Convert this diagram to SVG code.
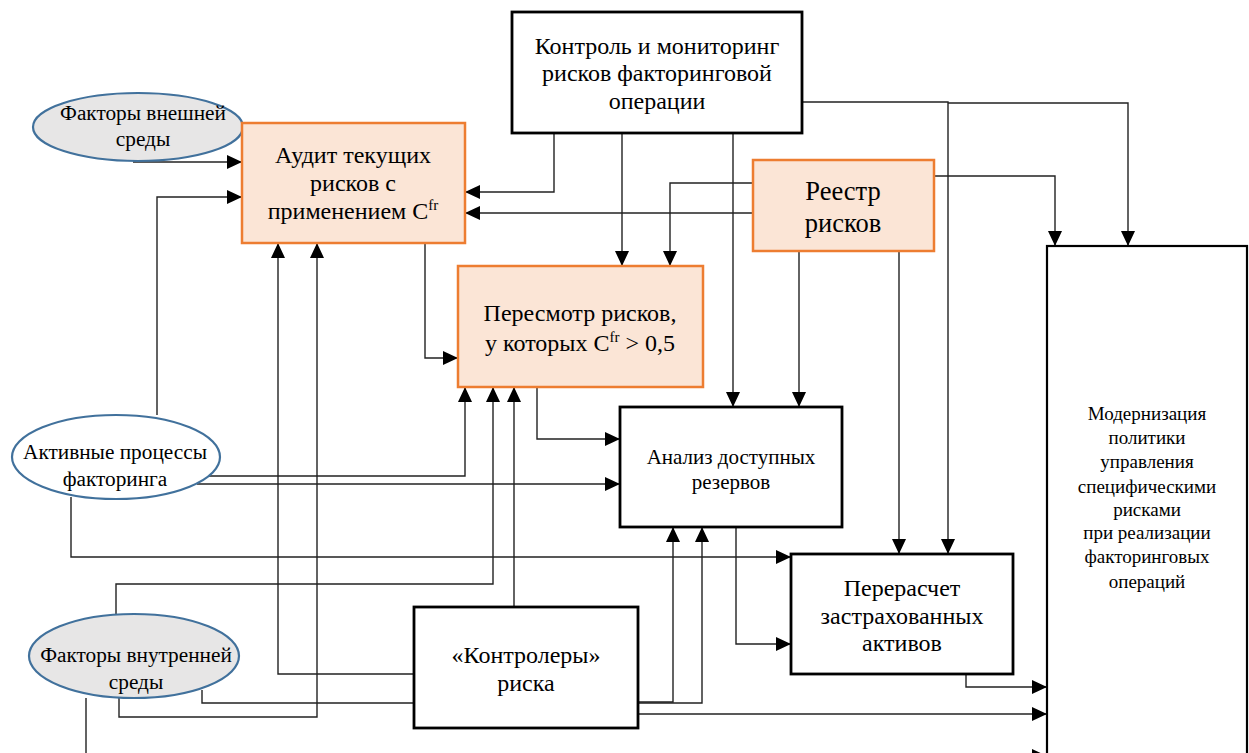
<svg xmlns="http://www.w3.org/2000/svg" width="1249" height="753" viewBox="0 0 1249 753">
<defs>
<marker id="ah" markerUnits="userSpaceOnUse" markerWidth="15" markerHeight="14" refX="15" refY="7" orient="auto">
<path d="M0,0 L15,7 L0,14 Z" fill="#000"/>
</marker>
<style>
.ell{fill:#e7e6e6;stroke:#41719c;stroke-width:2.2}
.org{fill:#fbe5d6;stroke:#ed7d31;stroke-width:2.5}
.blk{fill:#fff;stroke:#000;stroke-width:2.8}
.c{fill:none;stroke:#222;stroke-width:1.4}
.a{marker-end:url(#ah)}
.t{font-family:"Liberation Serif","Times New Roman",serif;fill:#000;text-anchor:middle}
.f24{font-size:24px}
.f21{font-size:21.3px}
.f20{font-size:21px}
.f19{font-size:19px}
.f26{font-size:26.5px}
.sup{font-size:15px}
</style>
</defs>
<rect width="1249" height="753" fill="#fff"/>

<g id="connectors">
<path class="c a" d="M133,162 H242"/>
<path class="c a" d="M157,415 V197 H242"/>
<path class="c a" d="M414,674 H278 V243"/>
<path class="c a" d="M119,697 V717 H317 V243"/>
<path class="c a" d="M425,243 V358 H458"/>
<path class="c a" d="M554,133 V192 H465"/>
<path class="c a" d="M753,213 H465"/>
<path class="c a" d="M622,133 V266"/>
<path class="c a" d="M753,183 H670 V266"/>
<path class="c a" d="M733,133 V407"/>
<path class="c a" d="M799,251 V407"/>
<path class="c a" d="M802,102 H948 V554"/>
<path class="c a" d="M948,103 H1128 V246"/>
<path class="c a" d="M934,176 H1055 V246"/>
<path class="c a" d="M899,251 V554"/>
<path class="c a" d="M537,387 V439 H620"/>
<path class="c a" d="M205,476 H465 V387"/>
<path class="c a" d="M197,484 H620"/>
<path class="c a" d="M71,497 V557 H791"/>
<path class="c a" d="M514,607 V387"/>
<path class="c a" d="M116,614 V584 H493 V387"/>
<path class="c" d="M202,690 V703 H414"/>
<path class="c a" d="M638,702 H673 V527"/>
<path class="c a" d="M638,703 H702 V527"/>
<path class="c a" d="M638,714 H1047"/>
<path class="c a" d="M736,527 V644 H791"/>
<path class="c a" d="M966,674 V687 H1047"/>
<path class="c a" d="M86,698 V756 H1047"/>
</g>

<g id="n_ext">
<ellipse class="ell" cx="138" cy="127" rx="105" ry="34"/>
<text class="t f21" x="143" y="120">Факторы внешней</text>
<text class="t f21" x="143" y="146">среды</text>
</g>

<g id="n_audit">
<rect class="org" x="242" y="123" width="223" height="120"/>
<text class="t f24" x="353" y="163">Аудит текущих</text>
<text class="t f24" x="353" y="191">рисков с</text>
<text class="t f24" x="353" y="219">применением C<tspan class="sup" dy="-9">fr</tspan></text>
</g>

<g id="n_control">
<rect class="blk" x="512" y="12" width="290" height="121"/>
<text class="t f24" x="657" y="54">Контроль и мониторинг</text>
<text class="t f24" x="657" y="81">рисков факторинговой</text>
<text class="t f24" x="657" y="109">операции</text>
</g>

<g id="n_registry">
<rect class="org" x="753" y="160" width="181" height="91"/>
<text class="t f26" x="843" y="200">Реестр</text>
<text class="t f26" x="843" y="232">рисков</text>
</g>

<g id="n_review">
<rect class="org" x="458" y="266" width="245" height="121"/>
<text class="t f24" x="580" y="321">Пересмотр рисков,</text>
<text class="t f24" x="580" y="351">у которых C<tspan class="sup" dy="-9">fr</tspan><tspan dy="9"> &gt; 0,5</tspan></text>
</g>

<g id="n_analysis">
<rect class="blk" x="620" y="407" width="222" height="120"/>
<text class="t f20" x="731" y="464">Анализ доступных</text>
<text class="t f20" x="731" y="489">резервов</text>
</g>

<g id="n_recalc">
<rect class="blk" x="791" y="554" width="222" height="120"/>
<text class="t f24" x="902" y="596">Перерасчет</text>
<text class="t f24" x="902" y="624">застрахованных</text>
<text class="t f24" x="902" y="651">активов</text>
</g>

<g id="n_active">
<ellipse class="ell" cx="116" cy="457" rx="104" ry="42" style="fill:#fff"/>
<text class="t f21" x="115" y="459">Активные процессы</text>
<text class="t f21" x="115" y="486">факторинга</text>
</g>

<g id="n_int">
<ellipse class="ell" cx="134" cy="656" rx="105" ry="42"/>
<text class="t f21" x="136" y="662">Факторы внутренней</text>
<text class="t f21" x="136" y="689">среды</text>
</g>

<g id="n_ctrl">
<rect class="blk" x="414" y="607" width="224" height="121"/>
<text class="t f24" x="526" y="663">«Контролеры»</text>
<text class="t f24" x="526" y="691">риска</text>
</g>

<g id="n_modern">
<rect class="blk" x="1047" y="246" width="200" height="520" style="stroke-width:2.2"/>
<text class="t f19" x="1147" y="420">Модернизация</text>
<text class="t f19" x="1147" y="444">политики</text>
<text class="t f19" x="1147" y="468">управления</text>
<text class="t f19" x="1147" y="493">специфическими</text>
<text class="t f19" x="1147" y="516">рисками</text>
<text class="t f19" x="1147" y="539">при реализации</text>
<text class="t f19" x="1147" y="563">факторинговых</text>
<text class="t f19" x="1147" y="588">операций</text>
</g>
</svg>
